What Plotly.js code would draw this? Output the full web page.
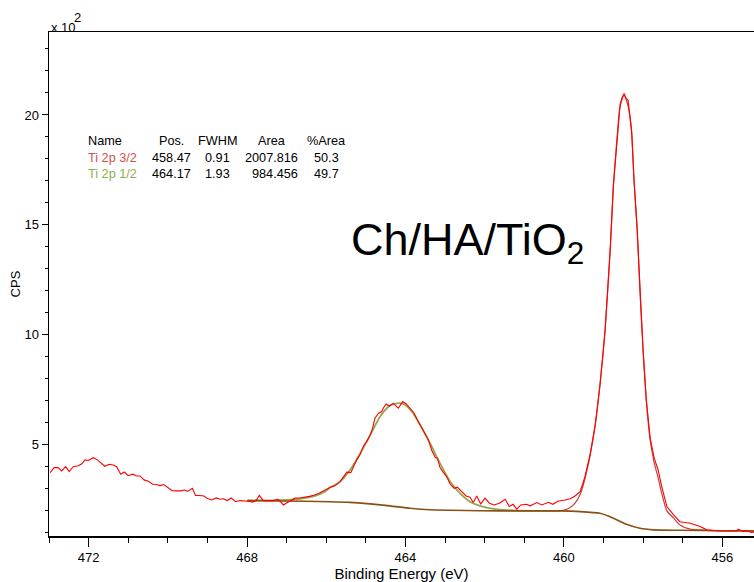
<!DOCTYPE html>
<html>
<head>
<meta charset="utf-8">
<script src="https://cdn.plot.ly/plotly-3.0.1.min.js"></script>
<style>html,body{margin:0;padding:0;background:#fff;}#chart{width:754px;height:582px;}</style>
</head>
<body>
<div id="chart"></div>
<script>
// ---- Data (CPS in units of 10^2) ----
const rawE = [472.97,472.87,472.77,472.68,472.58,472.49,472.39,472.26,472.17,472.09,472.01,471.88,471.78,471.69,471.59,471.48,471.38,471.29,471.19,471.10,471.00,470.89,470.79,470.70,470.60,470.49,470.38,470.28,470.20,470.10,469.99,469.89,469.78,469.67,469.58,469.50,469.38,469.30,469.19,469.09,469.00,468.89,468.78,468.68,468.60,468.50,468.40,468.29,468.18,468.07,467.97,467.86,467.77,467.69,467.59,467.46,467.34,467.21,467.08,466.98,466.87,466.79,466.68,466.55,466.42,466.30,466.18,466.05,465.90,465.78,465.65,465.53,465.48,465.38,465.32,465.23,465.15,465.06,464.98,464.89,464.83,464.77,464.68,464.60,464.56,464.49,464.41,464.31,464.18,464.07,463.98,463.88,463.78,463.70,463.61,463.52,463.42,463.34,463.25,463.19,463.13,463.04,462.96,462.87,462.77,462.69,462.58,462.47,462.37,462.29,462.20,462.10,461.99,461.88,461.76,461.63,461.48,461.38,461.28,461.19,461.09,460.95,460.85,460.68,460.56,460.39,460.28,460.14,459.97,459.84,459.72,459.59,459.47,459.34,459.21,459.09,458.96,458.83,458.75,458.66,458.58,458.53,458.48,458.43,458.38,458.29,458.23,458.15,458.08,458.00,457.92,457.82,457.72,457.62,457.53,457.40,457.23,457.07,456.81,456.56,456.39,456.22,456.06,455.80,455.64,455.60,455.47,455.35,455.26,455.20];
const rawCPS = [3.74,3.97,3.97,3.82,4.01,3.79,4.01,4.05,4.14,4.32,4.29,4.42,4.32,4.17,4.03,4.12,4.09,4.01,3.67,3.77,3.60,3.67,3.59,3.59,3.41,3.35,3.21,3.20,3.15,3.20,3.03,2.92,2.91,2.91,2.95,2.89,3.03,2.70,2.70,2.68,2.56,2.50,2.59,2.53,2.55,2.47,2.59,2.42,2.47,2.47,2.44,2.40,2.47,2.71,2.47,2.47,2.47,2.53,2.27,2.38,2.50,2.58,2.59,2.62,2.66,2.72,2.80,2.93,3.08,3.14,3.33,3.64,3.76,3.74,3.98,4.32,4.55,4.95,5.15,5.45,5.76,6.21,6.44,6.52,6.67,6.86,6.77,6.89,6.67,6.97,6.86,6.67,6.44,6.14,5.83,5.58,5.23,4.77,4.44,4.39,3.98,3.74,3.56,3.21,3.03,3.08,2.88,2.68,2.62,2.38,2.68,2.32,2.58,2.35,2.27,2.35,2.53,2.20,2.30,2.08,2.27,2.30,2.23,2.38,2.27,2.39,2.30,2.45,2.50,2.55,2.68,2.88,3.55,4.55,5.90,7.70,10.2,13.9,16.8,18.9,20.5,20.8,20.98,20.75,20.68,19.3,17.05,14.8,12.0,9.3,7.05,5.3,4.4,3.86,3.11,2.20,1.82,1.51,1.44,1.29,1.14,1.10,1.09,1.09,1.09,1.17,1.06,1.09,1.01,1.05];

const bgE = [468.00,467.17,465.90,465.40,464.89,464.39,463.88,463.38,462.87,462.12,461.11,460.10,459.59,459.09,458.75,458.42,458.08,457.74,457.07,456.06,455.20];
const bgCPS = [2.47,2.45,2.42,2.39,2.32,2.23,2.12,2.05,2.03,2.01,2.00,2.00,1.97,1.89,1.67,1.39,1.21,1.14,1.12,1.10,1.09];

const p12E = [467.97,467.17,466.66,466.28,466.03,465.90,465.65,465.40,465.15,464.89,464.64,464.43,464.22,464.05,463.84,463.63,463.38,463.13,462.87,462.62,462.37,462.12,461.86,461.53,461.19,460.60,460.10];
const p12CPS = [2.48,2.49,2.55,2.68,2.88,3.06,3.33,3.86,4.59,5.45,6.29,6.74,6.89,6.86,6.52,5.91,5.08,4.17,3.33,2.80,2.42,2.23,2.12,2.05,2.01,2.00,2.00];

const p32E = [460.14,459.97,459.84,459.72,459.59,459.47,459.34,459.21,459.09,458.96,458.83,458.75,458.66,458.58,458.48,458.38,458.29,458.23,458.15,458.08,458.00,457.92,457.82,457.72,457.62,457.53,457.40,457.23,457.07,456.81,456.56,456.39,456.06,455.20];
const p32CPS = [2.00,2.05,2.15,2.35,2.75,3.45,4.5,5.9,7.7,10.2,13.9,16.8,18.9,20.4,20.9,20.4,19.2,17.05,14.8,12.0,9.3,7.05,5.2,4.2,3.5,2.8,2.0,1.67,1.36,1.17,1.14,1.12,1.10,1.09];

const xTickVals = [472,468,464,460,456];
const yTickVals = [5,10,15,20];

const tableHeader = ['Name','Pos.','FWHM','Area','%Area'];
const peakNames = ['Ti 2p 3/2','Ti 2p 1/2'];
const peakPos = ['458.47','464.17'];
const peakFWHM = ['0.91','1.93'];
const peakArea = ['2007.816','984.456'];
const peakPct = ['50.3','49.7'];
const sampleLabel = 'Ch/HA/TiO<sub>2</sub>';

// ---- Layout helpers ----
const L = 49, T = 32, W = 705, H = 504;
function px(x){ return (x - L) / W; }
function py(y){ return (T + H - y) / H; }
const FONT = 'Liberation Sans, Arial, sans-serif';

const traces = [
  {x: p32E, y: p32CPS, mode: 'lines', line: {color: '#c83c3c', width: 1.2, shape: 'spline', smoothing: 0.6}, hoverinfo: 'skip'},
  {x: p12E, y: p12CPS, mode: 'lines', line: {color: '#94a64c', width: 1.8, shape: 'spline', smoothing: 0.6}, hoverinfo: 'skip'},
  {x: bgE, y: bgCPS, mode: 'lines', line: {color: '#8a4f12', width: 1.6, shape: 'spline', smoothing: 0.6}, hoverinfo: 'skip'},
  {x: rawE, y: rawCPS, mode: 'lines', line: {color: '#ff0000', width: 1.1}, hoverinfo: 'skip'}
];

const ann = [];
function addText(text, xpx, ypx, xanchor, size, color){
  ann.push({text: text, x: px(xpx), y: py(ypx), xref: 'paper', yref: 'paper', xanchor: xanchor, yanchor: 'middle',
    showarrow: false, font: {family: FONT, size: size, color: color || '#000'}});
}
// table
const rowY = [141, 157.5, 174];
const fs = 12.7;
addText(tableHeader[0], 85.7, rowY[0], 'left', fs);
addText(tableHeader[1], 171.5, rowY[0], 'center', fs);
addText(tableHeader[2], 217.5, rowY[0], 'center', fs);
addText(tableHeader[3], 271.8, rowY[0], 'center', fs);
addText(tableHeader[4], 326, rowY[0], 'center', fs);
const nameColors = ['#d65050', '#86b04a'];
for (let i = 0; i < peakNames.length; i++) {
  const yy = rowY[i + 1];
  addText(peakNames[i], 85.7, yy, 'left', fs, nameColors[i]);
  addText(peakPos[i], 171.5, yy, 'center', fs);
  addText(peakFWHM[i], 217.5, yy, 'center', fs);
  addText(peakArea[i], 299.5, yy, 'right', fs);
  addText(peakPct[i], 326.2, yy, 'center', fs);
}
// sample label
addText(sampleLabel, 349, 243, 'left', 45);
// exponent
addText('x 10', 48.5, 27, 'left', 13);
addText('2', 71.5, 17, 'left', 13);

const layout = {
  width: 754, height: 582,
  margin: {l: L, r: 0, t: T, b: 582 - T - H},
  paper_bgcolor: '#fff', plot_bgcolor: '#fff',
  showlegend: false,
  font: {family: FONT, color: '#000', size: 13},
  xaxis: {
    range: [473.0, 455.2], autorange: false,
    tickvals: xTickVals, ticks: 'outside', ticklen: 9, tickwidth: 1, tickcolor: '#000',
    minor: {dtick: 1, tick0: 456, ticks: 'outside', ticklen: 5, tickwidth: 1, tickcolor: '#000'},
    showline: true, linecolor: '#000', linewidth: 1.5, mirror: true,
    showgrid: false, zeroline: false,
    tickfont: {family: FONT, size: 13, color: '#000'},
    title: {text: 'Binding Energy (eV)', font: {family: FONT, size: 15, color: '#000'}, standoff: 4}
  },
  yaxis: {
    range: [0.86, 23.77], autorange: false,
    tickvals: yTickVals, ticks: 'outside', ticklen: 6, tickwidth: 1, tickcolor: '#000',
    minor: {dtick: 1, tick0: 0, ticks: 'outside', ticklen: 3, tickwidth: 1, tickcolor: '#000'},
    showline: true, linecolor: '#000', linewidth: 1.5, mirror: true,
    showgrid: false, zeroline: false,
    tickfont: {family: FONT, size: 13, color: '#000'},
    title: {text: 'CPS', font: {family: FONT, size: 13, color: '#000'}, standoff: 1}
  },
  annotations: ann
};

Plotly.newPlot('chart', traces, layout, {displayModeBar: false, staticPlot: true});
</script>
</body>
</html>
